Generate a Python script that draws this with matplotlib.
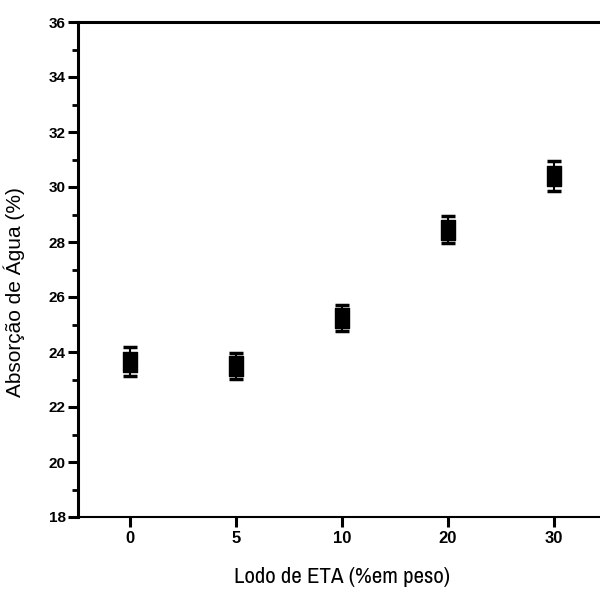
import matplotlib
matplotlib.use("Agg")
import matplotlib.pyplot as plt
from matplotlib.path import Path
from matplotlib.ticker import MultipleLocator

categories = ["0", "5", "10", "20", "30"]
values = [23.65, 23.5, 25.25, 28.45, 30.4]
errors = [0.53, 0.47, 0.47, 0.5, 0.55]

plt.rcParams['font.family'] = ['Liberation Sans', 'DejaVu Sans']

fig = plt.figure(figsize=(6.0, 5.92), dpi=100)
ax = fig.add_axes([78/600, 1-517/592, (607-78)/600, (517-22)/592])

rect = Path([(-0.34, -0.5), (0.34, -0.5), (0.34, 0.5), (-0.34, 0.5), (-0.34, -0.5)],
            [Path.MOVETO, Path.LINETO, Path.LINETO, Path.LINETO, Path.CLOSEPOLY])
xs = list(range(len(categories)))
ax.errorbar(xs, values, yerr=errors, fmt='none', ecolor='black', elinewidth=1.5,
            capsize=5, capthick=2.5, zorder=2)
ax.plot(xs, values, linestyle='none', marker=rect, markersize=14, color='black', zorder=3)

ax.set_xlim(-0.49, 4.5)
ax.set_ylim(18, 36)
ax.set_xticks(xs)
ax.set_xticklabels(categories)
ax.yaxis.set_major_locator(MultipleLocator(2))
ax.yaxis.set_minor_locator(MultipleLocator(1))

for s in ['left', 'top']:
    ax.spines[s].set_linewidth(2.2)
ax.spines['bottom'].set_linewidth(1.5)
ax.spines['right'].set_visible(False)

ax.tick_params(axis='y', which='major', direction='out', length=7, width=2.2, labelsize=11, pad=2)
ax.tick_params(axis='y', which='minor', direction='out', length=4, width=2)
ax.tick_params(axis='x', which='major', direction='out', length=7, width=2.2, labelsize=12, pad=3)
for lab in ax.get_xticklabels() + ax.get_yticklabels():
    lab.set_fontweight('bold')

ax.set_xlabel("Lodo de ETA (%em peso)", fontsize=16.5, labelpad=15,
              family=['Archivo Narrow', 'Liberation Sans'])
ax.set_ylabel("Absorção de Água (%)", fontsize=15)
ax.yaxis.set_label_coords(-0.1, 0.455)

fig.savefig("out.png", dpi=100)
